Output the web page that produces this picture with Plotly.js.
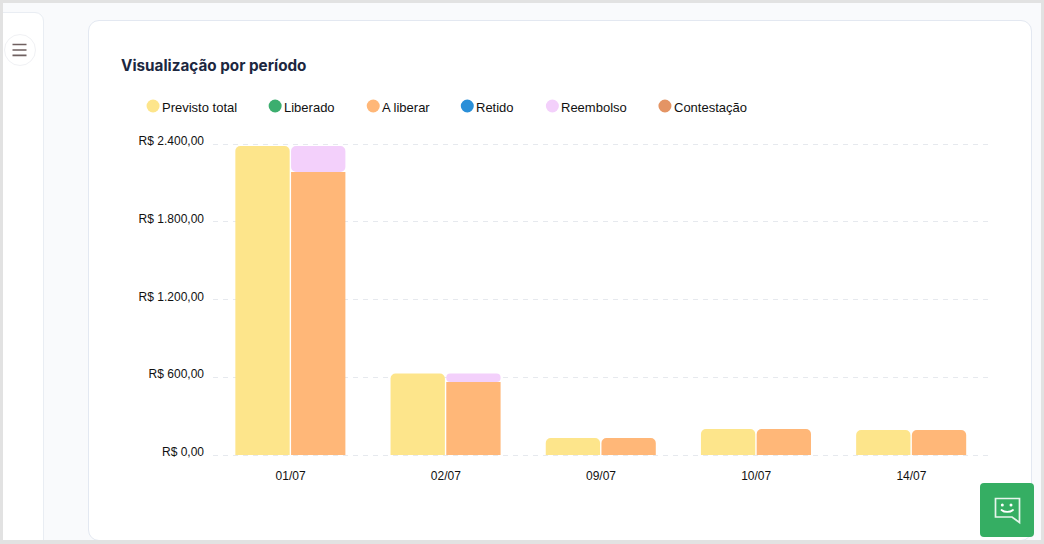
<!DOCTYPE html>
<html>
<head>
<meta charset="utf-8">
<script src="https://cdn.plot.ly/plotly-3.0.1.min.js"></script>
<style>
html, body { margin: 0; padding: 0; width: 1044px; height: 544px; overflow: hidden; background: #e2e2e2; }
#page { position: absolute; left: 3px; top: 3px; width: 1038px; height: 537px; background: #f9fafc; overflow: hidden; }
#sidebar { position: absolute; left: -2px; top: 9px; width: 43px; height: 540px; background: #fff; border: 1px solid #e9edf3; border-radius: 0 9px 0 0; box-sizing: border-box; }
#menu { position: absolute; left: 0.5px; top: 30.5px; width: 30px; height: 30px; background: #fff; border: 1px solid #f0f1f4; border-radius: 50%; }
#card { position: absolute; left: 85px; top: 17px; width: 944px; height: 521px; background: #fff; border: 1px solid #e3e8f1; border-radius: 11px; box-sizing: border-box; }
#chart { position: absolute; left: 0; top: 0; width: 1044px; height: 544px; }
#chat { position: absolute; left: 980px; top: 483px; width: 54px; height: 54px; background: #35ae63; border-radius: 4px; }
</style>
</head>
<body>
<div id="page">
  <div id="sidebar"></div>
  <div id="menu">
    <svg width="30" height="30"><path d="M7.500 9.500h14M7.500 15h14M7.500 20.300h14" stroke="#6f6060" stroke-width="1.700" fill="none"/></svg>
  </div>
  <div id="card"></div>
</div>
<div id="chart"></div>
<div id="chat">
  <svg width="54" height="54"><path d="M15.500 15.500H39.500V39.500L32 34H15.500Z" fill="none" stroke="#e6f5ec" stroke-width="1.700"/><circle cx="22.300" cy="22" r="1.500" fill="#fff"/><circle cx="31" cy="22" r="1.500" fill="#fff"/><path d="M21.500 27c3 2.600 8.500 2.600 11.500 0" fill="none" stroke="#fff" stroke-width="1.800" stroke-linecap="round"/></svg>
</div>
<script>
var categorias = ['01/07', '02/07', '09/07', '10/07', '14/07'];
var previstoTotal = [2385, 629, 131, 200, 193];
var liberado = [0, 0, 0, 0, 0];
var aLiberar = [2184, 563, 131, 200, 193];
var retido = [0, 0, 0, 0, 0];
var reembolso = [201, 66, 0, 0, 0];
var contestacao = [0, 0, 0, 0, 0];

var yTicks = [0, 600, 1200, 1800, 2400];
var yLabels = ['R$ 0,00', 'R$ 600,00', 'R$ 1.200,00', 'R$ 1.800,00', 'R$ 2.400,00'];

var legendNames = ['Previsto total', 'Liberado', 'A liberar', 'Retido', 'Reembolso', 'Contestação'];
var legendColors = ['#fde58b', '#3cae6f', '#ffb778', '#2a8fd8', '#f3d0fb', '#e49464'];
var legendPx = [153.500, 275.500, 373.500, 467.500, 552.500, 665];

var posicoes = categorias.map((c, i) => i);
var left = 213.4, right = 988.8, legendY = 106;

// plot area is 2px taller than the ticks on each side, plotly drops end gridlines otherwise
var top_ = 142, bottom = 457;
var perPx = 2400 / 311;

function serie(name, values, color, side, base) {
    return {
        type: 'bar',
        name: name,
        x: posicoes,
        y: values,
        base: base,
        width: 0.35,
        offset: side == 'left' ? -0.356 : 0.003,
        marker: { color: color, cornerradius: 5, line: { width: 0 } },
        showlegend: false
    };
}

var data = [
    serie('Previsto total', previstoTotal, legendColors[0], 'left'),
    serie('Liberado', liberado, legendColors[1], 'right'),
    serie('A liberar', aLiberar, legendColors[2], 'right'),
    serie('Retido', retido, legendColors[3], 'right', aLiberar),
    serie('Reembolso', reembolso, legendColors[4], 'right', aLiberar),
    serie('Contestação', contestacao, legendColors[5], 'right', aLiberar)
];

function toPaperX(px) {
    return (px - left) / (right - left);
}
function toPaperY(px) {
    return (bottom - px) / (bottom - top_);
}

// legend is drawn by hand, plotly can't keep the tight marker/text gap
var shapes = legendNames.map((n, i) => ({
    type: 'circle',
    xref: 'paper', yref: 'paper',
    x0: toPaperX(legendPx[i] - 6.500), x1: toPaperX(legendPx[i] + 6.500),
    y0: toPaperY(legendY + 6.500), y1: toPaperY(legendY - 6.500),
    fillcolor: legendColors[i],
    line: { width: 0 }
}));

var annotations = legendNames.map((n, i) => ({
    text: n,
    xref: 'paper', yref: 'paper',
    x: toPaperX(legendPx[i] + 9), y: toPaperY(legendY + 2),
    xanchor: 'left', yanchor: 'middle',
    showarrow: false,
    xshift: -2,
    font: { family: 'Liberation Sans, Arial, sans-serif', size: 13, color: '#111' }
}));

var layout = {
    width: 1044,
    height: 544,
    margin: { l: left, r: 1044 - right, t: top_, b: 544 - bottom, pad: 0 },
    paper_bgcolor: 'rgba(0,0,0,0)',
    plot_bgcolor: 'rgba(0,0,0,0)',
    barmode: 'overlay',
    title: {
        text: '<b>Visualização por período</b>',
        xref: 'container', yref: 'container',
        x: 121 / 1044, xanchor: 'left',
        y: 1 - 66 / 544, yanchor: 'middle',
        font: { family: 'Inter, sans-serif', size: 15.250, color: '#1c2740' }
    },
    xaxis: {
        type: 'linear',
        range: [-0.5, 4.5],
        tickvals: posicoes,
        ticktext: categorias,
        showgrid: false,
        zeroline: false,
        showline: false,
        ticks: '',
        ticklabelstandoff: 10,
        tickfont: { family: 'Liberation Sans, Arial, sans-serif', size: 12, color: '#111' }
    },
    yaxis: {
        range: [-2 * perPx, 2400 + 2 * perPx],
        tickvals: yTicks,
        ticktext: yLabels,
        zeroline: false,
        showline: false,
        ticks: '',
        gridcolor: '#e6e9ee',
        griddash: '5px,5px',
        gridwidth: 1,
        ticklabelstandoff: 8,
        ticklabelshift: -3,
        tickfont: { family: 'Liberation Sans, Arial, sans-serif', size: 12, color: '#111' }
    },
    shapes: shapes,
    annotations: annotations
};

Plotly.newPlot('chart', data, layout, { displayModeBar: false });
</script>
</body>
</html>
